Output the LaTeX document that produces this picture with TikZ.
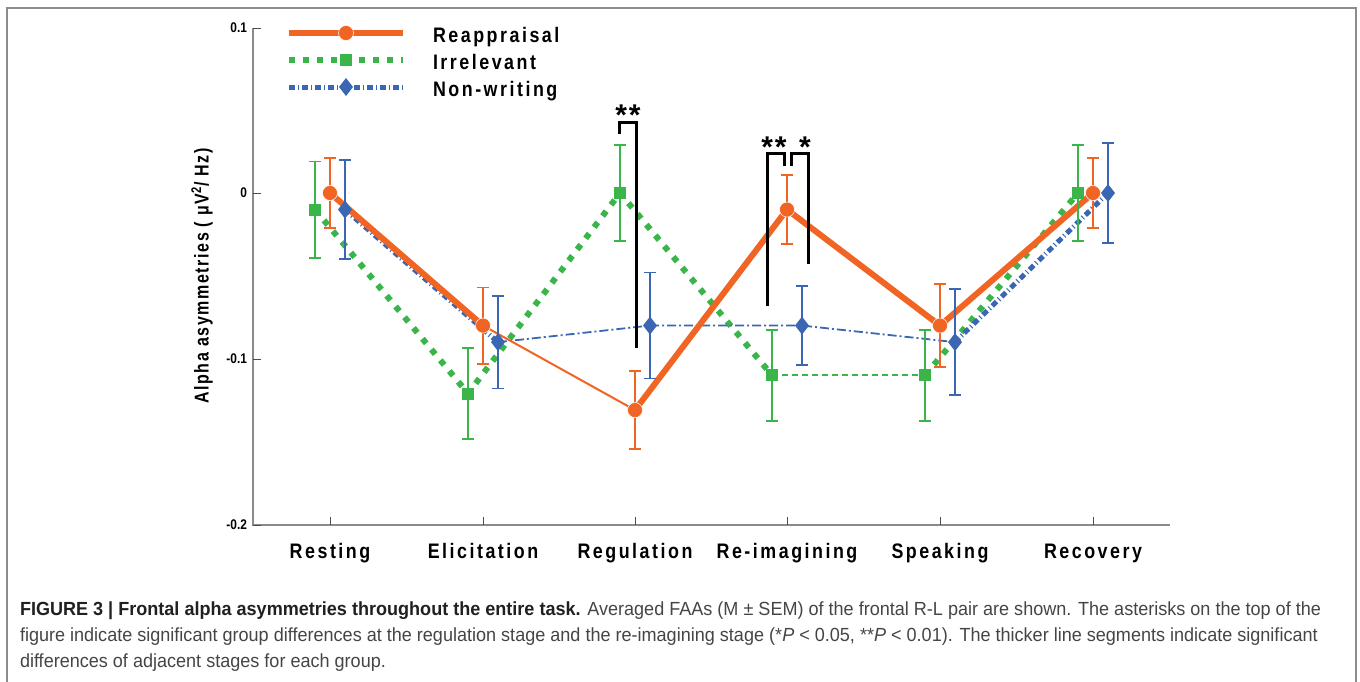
\documentclass[tikz,border=0pt]{standalone}
\usepackage{fontspec}
\setmainfont{Liberation Sans}
\newfontfamily\axisfont[FakeStretch=0.85,LetterSpace=12]{Liberation Sans}
\newfontfamily\yfont[FakeStretch=0.8,LetterSpace=8]{Liberation Sans}
\newfontfamily\tickfont[FakeStretch=0.85]{Liberation Sans}
\newfontfamily\starfont[LetterSpace=6]{Liberation Sans}
\newfontfamily\capfont[FakeStretch=0.95]{Liberation Sans}
\usetikzlibrary{shapes.geometric}
\definecolor{reapp}{HTML}{F06424}
\definecolor{irrel}{HTML}{3AB54A}
\definecolor{nonwr}{HTML}{3A66B3}
\definecolor{axisline}{HTML}{8A8A8A}
\definecolor{frameline}{HTML}{8C8C8C}
\definecolor{captext}{HTML}{454545}
\definecolor{capbold}{HTML}{231F20}
\newcommand{\stagesize}{\fontsize{21}{24}\selectfont}
\newcommand{\ticksize}{\fontsize{14}{16}\selectfont}
\newcommand{\ylabsize}{\fontsize{20}{23}\selectfont}
\newcommand{\starsize}{\fontsize{30}{33}\selectfont}
\newcommand{\capsize}{\fontsize{19}{26}\selectfont}
% stage / value / error for Reappraisal, Irrelevant, Non-writing
\newcommand{\faadata}{
 1/330/0/.021/-.01/.029/-.01/.03,
 2/483/-.08/.023/-.121/.0275/-.09/.028,
 3/635/-.131/.0235/0/.029/-.08/.032,
 4/787/-.01/.021/-.11/.0275/-.08/.024,
 5/940/-.08/.025/-.11/.0275/-.09/.032,
 6/1093/0/.021/0/.029/0/.03}
\tikzset{
 every node/.append style={inner sep=0pt,outer sep=0pt},
 stage/.style={font=\axisfont\bfseries\stagesize,anchor=base},
 legendtext/.style={font=\axisfont\bfseries\stagesize,anchor=base west},
 ticklabel/.style={font=\tickfont\bfseries\ticksize,anchor=east},
 stars/.style={font=\starfont\bfseries\starsize,anchor=base},
 axis/.style={draw=axisline,line width=1.5pt},
 axistick/.style={draw=black!70,line width=.8pt},
 rmark/.style={circle,fill=reapp,draw=white,line width=.5pt,minimum size=15pt},
 imark/.style={rectangle,fill=irrel,minimum size=12pt},
 nmark/.style={diamond,fill=nonwr,minimum width=14pt,minimum height=18pt},
 bigR/.style={draw=reapp,line width=6pt},
 thinR/.style={draw=reapp,line width=2pt},
 bigI/.style={draw=irrel,line width=6pt,dash pattern=on 6pt off 8pt},
 thinI/.style={draw=irrel,line width=2pt,dash pattern=on 6pt off 4pt},
 bigN/.style={draw=nonwr,line width=5pt,dash pattern=on 6pt off 3pt on 1pt off 3pt},
 thinN/.style={draw=nonwr,line width=1.8pt,dash pattern=on 9pt off 3pt on 2pt off 3pt},
 errbar/.style={line width=1.8pt},
 sig/.style={draw=black,line width=3pt},
}

\begin{document}
\begin{tikzpicture}[x=1pt,y=-1pt]
\useasboundingbox (0,0) rectangle (1360,681);
\draw[draw=frameline,line width=1.5pt] (7,8) rectangle (1356,720);

% axes
\draw[axis] (253,28) -- (253,525) -- (1170,525);
\foreach \ty/\tl in {28/0.1,193/0,359/-0.1,525/-0.2} {
  \draw[axistick] (253,\ty) -- (261,\ty);
  \node[ticklabel] (tick\tl) at (247,\ty) {\tl};
}
\foreach \sx/\sname in {330/Resting,483/Elicitation,635/Regulation,787/Re-imagining,940/Speaking,1093/Recovery} {
  \draw[axistick] (\sx,525) -- (\sx,517);
  \node[stage] (lab\sx) at (\sx,558) {\sname};
}
\node[font=\yfont\bfseries\ylabsize,rotate=90] (ylab) at (202,276)
  {Alpha asymmetries ( μV\textsuperscript{2}/ Hz)};

% data
\begin{scope}[shift={(0,193)},y=1657pt]
\foreach \k/\sx/\rv/\re/\iv/\ie/\nv/\ne in \faadata {
  \coordinate (r\k) at (\sx,\rv);
  \coordinate (i\k) at (\sx-15,\iv);
  \coordinate (n\k) at (\sx+15,\nv);
}
\draw[bigI] (i1) -- (i2) -- (i3) -- (i4);
\draw[thinI] (i4) -- (i5);
\draw[bigI] (i5) -- (i6);
\draw[bigN] (n1) -- (n2);
\draw[thinN] (n2) -- (n3) -- (n4) -- (n5);
\draw[bigN] (n5) -- (n6);
\draw[bigR] (r1) -- (r2);
\draw[thinR] (r2) -- (r3);
\draw[bigR] (r3) -- (r4) -- (r5) -- (r6);
\foreach \k/\sx/\rv/\re/\iv/\ie/\nv/\ne in \faadata {
  \draw[errbar,draw=irrel] (\sx-15,\iv-\ie) -- (\sx-15,\iv+\ie)
    (\sx-21,\iv-\ie) -- (\sx-9,\iv-\ie) (\sx-21,\iv+\ie) -- (\sx-9,\iv+\ie);
  \draw[errbar,draw=reapp] (\sx,\rv-\re) -- (\sx,\rv+\re)
    (\sx-6,\rv-\re) -- (\sx+6,\rv-\re) (\sx-6,\rv+\re) -- (\sx+6,\rv+\re);
  \draw[errbar,draw=nonwr] (\sx+15,\nv-\ne) -- (\sx+15,\nv+\ne)
    (\sx+9,\nv-\ne) -- (\sx+21,\nv-\ne) (\sx+9,\nv+\ne) -- (\sx+21,\nv+\ne);
  \node[imark] (im\k) at (i\k) {};
  \node[rmark] (rm\k) at (r\k) {};
  \node[nmark] (nm\k) at (n\k) {};
}
\end{scope}

% significance brackets
\draw[sig] (619,134) -- (619,122) -- (636,122) -- (636,348);
\node[stars] (starsreg) at (628,125) {**};
\draw[sig] (767,306) -- (767,153) -- (784,153) -- (784,166);
\draw[sig] (791,166) -- (791,153) -- (808,153) -- (808,264);
\node[stars] (starsre1) at (774,157) {**};
\node[stars] (starsre2) at (805,157) {*};

% legend
\draw[bigR] (289,33) -- (403,33);
\node[rmark] (legr) at (346,33) {};
\draw[bigI] (289,60) -- (403,60);
\node[imark] (legi) at (346,60) {};
\draw[bigN] (289,87) -- (403,87);
\node[nmark] (legn) at (346,87) {};
\node[legendtext] (legrt) at (433,42) {Reappraisal};
\node[legendtext] (legit) at (433,69) {Irrelevant};
\node[legendtext] (legnt) at (433,96) {Non-writing};

% caption
\begin{scope}[every node/.append style={font=\capfont\capsize,text=captext,anchor=base west}]
\node (cap1) at (20,615) {{\bfseries\color{capbold}FIGURE 3 | Frontal alpha asymmetries throughout the entire task.} Averaged FAAs (M ± SEM) of the frontal R-L pair are shown. The asterisks on the top of the};
\node (cap2) at (20,641) {figure indicate significant group differences at the regulation stage and the re-imagining stage (*\textit{P} < 0.05, **\textit{P} < 0.01). The thicker line segments indicate significant};
\node (cap3) at (20,667) {differences of adjacent stages for each group.};
\end{scope}
\end{tikzpicture}
\end{document}
